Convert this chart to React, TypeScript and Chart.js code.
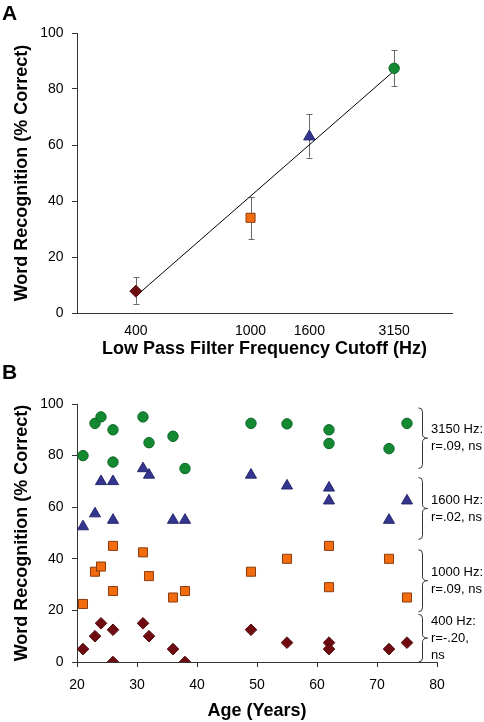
import React, { useEffect, useRef } from "react";
import { Chart, registerables } from "chart.js";

Chart.register(...registerables);

const FONT = '"Liberation Sans", Arial, Helvetica, sans-serif';

// ---------- Panel A data ----------
const freqs = [400, 1000, 1600, 3150];
const freqMeans = [7.8, 34, 63, 87.4];
const freqErrHigh = [12.7, 41.3, 71.1, 93.9];
const freqErrLow = [3.3, 26.4, 55.5, 81.1];
const fitX = [400, 3150];
const fitY = [6, 86.5];
const scoreTicks = [0, 20, 40, 60, 80, 100];

// ---------- Panel B data ----------
const ages = [21, 23, 24, 26, 26, 31, 32, 36, 38, 49, 55, 62, 62, 72, 75];
const score3150 = [80, 92.5, 95, 90, 77.5, 95, 85, 87.5, 75, 92.5, 92.3, 90, 84.7, 82.7, 92.5];
const score1600 = [52.5, 57.5, 70, 70, 55, 75, 72.5, 55, 55, 72.5, 68.3, 67.5, 62.5, 55, 62.5];
const score1000 = [22.5, 35, 37, 45, 27.5, 42.5, 33.3, 25, 27.5, 35, 40, 45, 29, 40, 25];
const score400 = [5, 10, 15, 12.5, 0, 15, 10, 5, 0, 12.5, 7.5, 7.5, 5, 5, 7.5];
const ageTicks = [20, 30, 40, 50, 60, 70, 80];

const braceLabels = [
  ["3150 Hz:", "r=.09, ns"],
  ["1600 Hz:", "r=.02, ns"],
  ["1000 Hz:", "r=.09, ns"],
  ["400 Hz:", "r=-.20,", "ns"],
];
const braceTop = [98.5, 71.5, 43.5, 18.5];
const braceBottom = [75, 47.5, 19.5, 0];

// ---------- styles ----------
const GREEN = "#138a31";
const GREEN_B = "#0c6524";
const BLUE = "#34358f";
const BLUE_B = "#26276b";
const ORANGE = "#f26c0f";
const ORANGE_B = "#8c3b0c";
const RED = "#6f0c12";
const RED_B = "#520a0d";

const panelLabel = (text: string, baseline: number) => ({
  id: "panelLabel" + text,
  afterDraw(chart: any) {
    const ctx = chart.ctx;
    ctx.save();
    ctx.font = `bold 21px ${FONT}`;
    ctx.fillStyle = "#000";
    ctx.textAlign = "left";
    ctx.textBaseline = "alphabetic";
    ctx.fillText(text, 2, baseline);
    ctx.restore();
  },
});

const errorBarPlugin = {
  id: "errorBars",
  beforeDatasetsDraw(chart: any) {
    const { ctx, scales } = chart;
    const xs = scales.x;
    const ys = scales.y;
    ctx.save();
    ctx.strokeStyle = "#6a6a6a";
    ctx.lineWidth = 1;
    freqs.forEach((f, i) => {
      const px = Math.round(xs.getPixelForValue(f)) + 0.5;
      const hi = ys.getPixelForValue(freqErrHigh[i]);
      const lo = ys.getPixelForValue(freqErrLow[i]);
      ctx.beginPath();
      ctx.moveTo(px, hi);
      ctx.lineTo(px, lo);
      ctx.moveTo(px - 3, Math.round(hi) + 0.5);
      ctx.lineTo(px + 3, Math.round(hi) + 0.5);
      ctx.moveTo(px - 3, Math.round(lo) + 0.5);
      ctx.lineTo(px + 3, Math.round(lo) + 0.5);
      ctx.stroke();
    });
    ctx.restore();
  },
};

const bracePlugin = {
  id: "braces",
  afterDraw(chart: any) {
    const { ctx, chartArea, scales } = chart;
    const ys = scales.y;
    const x0 = chartArea.right - 14.5;
    const c = 4;
    ctx.save();
    ctx.strokeStyle = "#333";
    ctx.lineWidth = 1;
    ctx.fillStyle = "#000";
    ctx.font = `13px ${FONT}`;
    ctx.textAlign = "left";
    ctx.textBaseline = "middle";
    braceLabels.forEach((lines, i) => {
      const top = ys.getPixelForValue(braceTop[i]);
      const bot = ys.getPixelForValue(braceBottom[i]);
      const mid = (top + bot) / 2;
      ctx.beginPath();
      ctx.moveTo(x0 - c, top);
      ctx.quadraticCurveTo(x0, top, x0, top + c);
      ctx.lineTo(x0, mid - c);
      ctx.quadraticCurveTo(x0, mid, x0 + c + 1, mid);
      ctx.quadraticCurveTo(x0, mid, x0, mid + c);
      ctx.lineTo(x0, bot - c);
      ctx.quadraticCurveTo(x0, bot, x0 - c, bot);
      ctx.stroke();
      const lh = 17;
      lines.forEach((t, k) => {
        const ty = mid + (k - (lines.length - 1) / 2) * lh;
        ctx.fillText(t, x0 + 8.5, ty);
      });
    });
    ctx.restore();
  },
};

const tickFont = { family: FONT, size: 14 };
const titleFont = { family: FONT, size: 18, weight: "bold" as const };

function PanelA() {
  const ref = useRef<HTMLCanvasElement | null>(null);
  useEffect(() => {
    if (!ref.current) return;
    const chart = new Chart(ref.current, {
      type: "scatter",
      data: {
        datasets: [
          {
            data: fitX.map((x, i) => ({ x, y: fitY[i] })),
            showLine: true,
            borderColor: "#000",
            borderWidth: 1,
            pointRadius: 0,
            order: 2,
          } as any,
          {
            data: freqs.map((x, i) => ({ x, y: freqMeans[i] })),
            pointStyle: ["rectRot", "rect", "triangle", "circle"],
            pointRadius: [6, 6.4, 6.6, 5.2],
            backgroundColor: [RED, ORANGE, BLUE, GREEN],
            borderColor: [RED_B, ORANGE_B, BLUE_B, GREEN_B],
            borderWidth: 1,
            order: 1,
          } as any,
        ],
      },
      options: {
        responsive: false,
        animation: false,
        layout: { padding: { top: 33, right: 32, bottom: 0, left: 0 } },
        plugins: { legend: { display: false }, tooltip: { enabled: false } },
        scales: {
          x: {
            type: "logarithmic",
            min: 250,
            max: 5000,
            afterBuildTicks: (s: any) => {
              s.ticks = freqs.map((v) => ({ value: v }));
            },
            afterFit: (s: any) => {
              s.height = 47;
            },
            ticks: {
              callback: (v: any) => String(v),
              font: tickFont,
              color: "#000",
              padding: 2,
              maxRotation: 0,
              autoSkip: false,
            },
            grid: { display: false },
            border: { display: true, color: "#333", width: 1 },
            title: {
              display: true,
              text: "Low Pass Filter Frequency Cutoff (Hz)",
              font: titleFont,
              color: "#000",
              padding: { top: 0, bottom: 0 },
            },
          },
          y: {
            min: 0,
            max: 100,
            afterBuildTicks: (s: any) => {
              s.ticks = scoreTicks.map((v) => ({ value: v }));
            },
            afterFit: (s: any) => {
              s.width = 77;
            },
            ticks: { font: tickFont, color: "#000", padding: 8.5 },
            grid: { drawOnChartArea: false, drawTicks: true, tickLength: 5, color: "#333" },
            border: { display: true, color: "#333", width: 1 },
            title: {
              display: true,
              text: "Word Recognition (% Correct)",
              font: titleFont,
              color: "#000",
              padding: { top: 11, bottom: 0 },
            },
          },
        },
      } as any,
      plugins: [errorBarPlugin, panelLabel("A", 20)],
    });
    return () => chart.destroy();
  }, []);
  return <canvas ref={ref} width={484} height={360} style={{ display: "block" }} />;
}

function PanelB() {
  const ref = useRef<HTMLCanvasElement | null>(null);
  useEffect(() => {
    if (!ref.current) return;
    const mk = (vals: number[], style: string, r: number, bg: string, bc: string) => ({
      data: ages.map((a, i) => ({ x: a, y: vals[i] })),
      pointStyle: style,
      pointRadius: r,
      backgroundColor: bg,
      borderColor: bc,
      borderWidth: 1,
      showLine: false,
    });
    const chart = new Chart(ref.current, {
      type: "scatter",
      data: {
        datasets: [
          mk(score3150, "circle", 5.2, GREEN, GREEN_B),
          mk(score1600, "triangle", 6.4, BLUE, BLUE_B),
          mk(score1000, "rect", 6.4, ORANGE, ORANGE_B),
          mk(score400, "rectRot", 5.8, RED, RED_B),
        ] as any,
      },
      options: {
        responsive: false,
        animation: false,
        layout: { padding: { top: 44, right: 47, bottom: 0, left: 0 } },
        plugins: { legend: { display: false }, tooltip: { enabled: false } },
        scales: {
          x: {
            type: "linear",
            min: 20,
            max: 80,
            afterBuildTicks: (s: any) => {
              s.ticks = ageTicks.map((v) => ({ value: v }));
            },
            afterFit: (s: any) => {
              s.height = 60;
            },
            ticks: { font: tickFont, color: "#000", padding: 10, maxRotation: 0, autoSkip: false },
            grid: { drawOnChartArea: false, drawTicks: true, tickLength: 5, color: "#333" },
            border: { display: true, color: "#333", width: 1 },
            title: {
              display: true,
              text: "Age (Years)",
              font: titleFont,
              color: "#000",
              padding: { top: 0, bottom: 0 },
            },
          },
          y: {
            min: 0,
            max: 100,
            afterBuildTicks: (s: any) => {
              s.ticks = scoreTicks.map((v) => ({ value: v }));
            },
            afterFit: (s: any) => {
              s.width = 77;
            },
            ticks: { font: tickFont, color: "#000", padding: 8.5 },
            grid: { drawOnChartArea: false, drawTicks: true, tickLength: 5, color: "#333" },
            border: { display: true, color: "#333", width: 1 },
            title: {
              display: true,
              text: "Word Recognition (% Correct)",
              font: titleFont,
              color: "#000",
              padding: { top: 11, bottom: 0 },
            },
          },
        },
      } as any,
      plugins: [bracePlugin, panelLabel("B", 19)],
    });
    return () => chart.destroy();
  }, []);
  return <canvas ref={ref} width={484} height={362} style={{ display: "block" }} />;
}

export default function App() {
  return (
    <div
      style={{
        position: "absolute",
        left: 0,
        top: 0,
        width: 484,
        height: 722,
        background: "#fff",
        overflow: "hidden",
      }}
    >
      <PanelA />
      <PanelB />
    </div>
  );
}
